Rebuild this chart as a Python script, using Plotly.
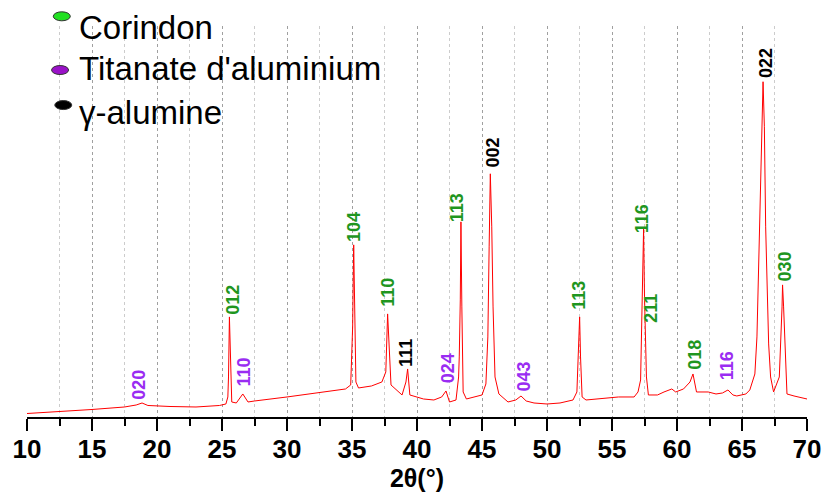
import plotly.graph_objects as go

# ---- data (2theta in degrees, intensity in arbitrary units) ----
two_theta = [10.0, 12.0, 15.0, 17.5, 18.4, 18.85, 19.3, 21.0, 23.0, 24.8, 25.3, 25.45, 25.50, 25.57,
             25.62, 25.68, 25.75, 26.1, 26.6, 27.0, 27.5, 30.0, 33.0, 34.5, 34.9, 35.05, 35.13,
             35.2, 35.3, 35.5, 36.5, 37.3, 37.6, 37.74, 37.85, 38.0, 38.85, 39.15, 39.28, 39.45,
             40.5, 41.3, 41.9, 42.23, 42.5, 43.0, 43.2, 43.25, 43.33, 43.38, 43.45, 43.55, 43.8,
             44.5, 45.0, 45.3, 45.45, 45.55, 45.64, 45.75, 45.85, 46.0, 46.3, 47.0, 47.6, 48.0,
             48.4, 49.0, 50.0, 51.0, 52.0, 52.3, 52.45, 52.51, 52.58, 52.7, 53.0, 54.0, 55.5,
             56.7, 57.0, 57.2, 57.33, 57.40, 57.43, 57.50, 57.55, 57.65, 57.8, 58.5, 59.0, 59.6,
             59.9, 60.5, 61.0, 61.23, 61.5, 62.4, 63.0, 63.5, 63.92, 64.3, 64.6, 65.3, 65.6,
             65.99, 66.15, 66.35, 66.5, 66.62, 66.72, 66.82, 67.05, 67.2, 67.43, 67.87, 68.08,
             68.12, 68.2, 68.27, 68.35, 68.46, 69.0, 70.0]
intensity = [3.5, 5, 7.5, 10, 12, 14, 11.5, 10.5, 10, 11.5, 13, 20, 40, 100,
             72, 30, 15, 14, 23, 15, 16, 20, 25, 28, 32, 90, 172,
             100, 35, 29, 31, 35, 45, 103, 70, 32, 22, 35, 48, 22,
             18, 17, 20, 26, 15, 17, 40, 60, 117, 195, 110, 25, 18,
             20, 22, 33, 80, 170, 243, 190, 110, 40, 23, 15, 17, 21,
             16, 14, 13, 14, 17, 25, 70, 100, 60, 20, 17, 18, 20,
             20, 25, 37, 110, 157, 188, 120, 92, 40, 22, 22, 25, 28,
             25, 28, 35, 43, 25, 25, 23, 24, 27, 22, 21, 23, 27,
             43, 80, 190, 300, 335, 290, 190, 73, 40, 25, 40, 110,
             132, 110, 80, 50, 23, 21, 18]

# peak labels (Miller indices), their position and phase
label_text = ["020", "012", "110", "104", "110", "111", "024", "113", "002", "043",
              "113", "116", "211", "018", "116", "022", "030"]
label_x = [18.6, 25.83, 26.7, 35.17, 37.8, 39.15, 42.4, 43.14, 45.82, 48.2,
           52.49, 57.37, 58.02, 61.37, 63.9, 66.86, 68.27]
label_y = [15, 100, 28, 173, 108, 48, 32, 193, 247, 23,
           105, 182, 92, 45, 35, 337, 133]
label_phase = ["T", "C", "T", "C", "C", "G", "T", "C", "G", "T",
               "C", "C", "C", "C", "T", "G", "C"]

phase_names = ["Corindon", "Titanate d'aluminium", "γ-alumine"]
phase_text_colors = {"C": "#1f961f", "T": "#9a2cf2", "G": "#000000"}
phase_marker_colors = ["#22e022", "#9a12c8", "#000000"]

x_ticks = [10, 15, 20, 25, 30, 35, 40, 45, 50, 55, 60, 65, 70]

FONT = "Liberation Sans, Arial, sans-serif"

fig = go.Figure()
fig.add_trace(go.Scatter(x=two_theta, y=intensity, mode="lines",
                         line=dict(color="#ff0000", width=1), showlegend=False,
                         hoverinfo="skip"))

annotations = []
for t, x, y, p in zip(label_text, label_x, label_y, label_phase):
    annotations.append(dict(x=x, y=y, xref="x", yref="y", text=t, showarrow=False,
                            textangle=-90, xanchor="center", yanchor="bottom",
                            font=dict(family=FONT, size=18, color=phase_text_colors[p],
                                      weight="bold")))

# legend (drawn as text + ellipse marks above the plot)
legend_text_y = [0.995, 0.8916, 0.778]
legend_mark_x = [0.0446, 0.0424, 0.0465]
legend_mark_y = [1.0248, 0.8874, 0.7978]
shapes = []
for name, col, ty, mx, my in zip(phase_names, phase_marker_colors, legend_text_y,
                                 legend_mark_x, legend_mark_y):
    annotations.append(dict(x=0.064, y=ty, xref="paper", yref="paper", text=name,
                            showarrow=False, xanchor="left", yanchor="middle",
                            font=dict(family=FONT, size=33, color="black")))
    shapes.append(dict(type="circle", xref="paper", yref="paper",
                       xsizemode="pixel", ysizemode="pixel",
                       xanchor=mx, yanchor=my,
                       x0=-8.5, x1=8.5, y0=-4.5, y1=4.5,
                       fillcolor=col, line=dict(color="#333333", width=1)))

fig.update_layout(
    width=824, height=497, autosize=False,
    margin=dict(l=27, r=17, t=26, b=80),
    paper_bgcolor="white", plot_bgcolor="white",
    showlegend=False,
    annotations=annotations, shapes=shapes,
    font=dict(family=FONT, color="black"),
    xaxis=dict(range=[10, 70], tickvals=x_ticks, ticktext=[str(v) for v in x_ticks],
               automargin=False, ticklabelstandoff=-4,
               ticks="outside", ticklen=12, tickwidth=2, tickcolor="black",
               showline=True, linewidth=2, linecolor="black",
               showgrid=True, gridcolor="#a0a0a0", griddash="dot", gridwidth=1,
               zeroline=False,
               tickfont=dict(family=FONT, size=26, color="black", weight="bold"),
               minor=dict(dtick=2.5, tick0=10, ticks="outside", ticklen=7, tickwidth=2,
                          tickcolor="black", showgrid=True, gridcolor="#cccccc",
                          griddash="dot", gridwidth=1),
               title=dict(text="2θ(°)", standoff=4,
                          font=dict(family=FONT, size=25, color="black", weight="bold"))),
    yaxis=dict(range=[0, 390.7], visible=False, showgrid=False, zeroline=False,
               automargin=False),
)

fig.write_html("out.html", config={"displayModeBar": False},
               post_script="document.body.style.margin='0';")
